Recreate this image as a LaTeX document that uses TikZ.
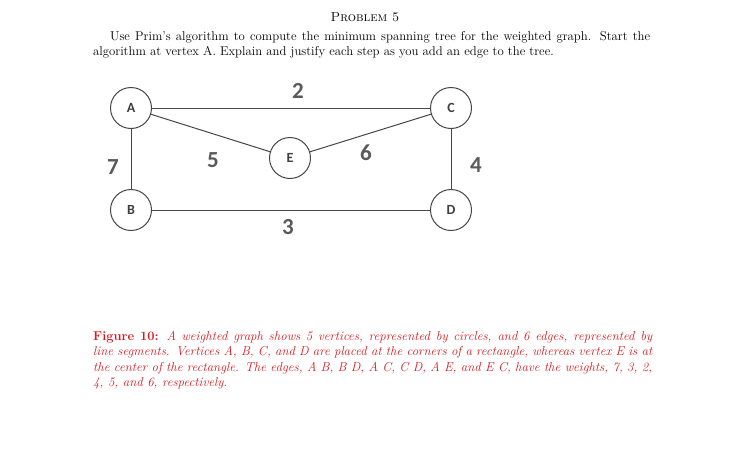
\documentclass[tikz,border=0pt]{standalone}
\usepackage{fontspec}
\newfontfamily\lblfont{Carlito}
\definecolor{capred}{RGB}{215,25,30}
\definecolor{edgegray}{RGB}{70,70,70}
\definecolor{lblgray}{RGB}{90,90,90}
\tikzset{
  vtx/.style={circle,draw=edgegray,line width=1pt,fill=white,minimum size=41pt,inner sep=0pt,font=\lblfont\bfseries\fontsize{14}{14}\selectfont,text=lblgray!70!black},
  edge/.style={draw=edgegray,line width=1pt},
  wlbl/.style={font=\lblfont\bfseries\fontsize{23}{23}\selectfont,text=lblgray,inner sep=0pt},
  para/.style={anchor=north west,inner sep=0pt,align=justify,text width=557pt,font=\fontsize{12.75}{15.3}\selectfont\addfontfeature{FakeBold=0.4}}
}
\begin{document}
\begin{tikzpicture}[x=1pt,y=-1pt]
\useasboundingbox (0,0) rectangle (730,450);
\node (title) at (365,17) {\fontsize{13}{15}\selectfont\addfontfeature{FakeBold=0.4}\textsc{Problem 5}};
\node[para] (prob) at (93,31) {\hyphenpenalty=10000\relax\hspace*{17pt}Use Prim's algorithm to compute the minimum spanning tree for the weighted graph. Start the algorithm at vertex A. Explain and justify each step as you add an edge to the tree.};
\node[vtx] (A) at (131,108) {A};
\node[vtx] (C) at (451,108) {C};
\node[vtx] (B) at (131,210) {B};
\node[vtx] (D) at (451,210) {D};
\node[vtx] (E) at (290,158) {E};
\draw[edge] (A) -- (C);
\draw[edge] (A) -- (B);
\draw[edge] (B) -- (D);
\draw[edge] (C) -- (D);
\draw[edge] (A) -- (E);
\draw[edge] (E) -- (C);
\node[wlbl] (w2) at (298,91) {2};
\node[wlbl] (w7) at (113,167) {7};
\node[wlbl] (w5) at (213,160) {5};
\node[wlbl] (w6) at (366,153) {6};
\node[wlbl] (w4) at (476,165) {4};
\node[wlbl] (w3) at (288,227) {3};
\node[para,text width=559pt,text=capred,font=\fontsize{12.88}{15.3}\selectfont\addfontfeature{FakeBold=0.4}] (cap) at (93,331) {\hyphenpenalty=10000\relax\textbf{Figure 10:} \textit{A weighted graph shows 5 vertices, represented by circles, and 6 edges, represented by\linebreak line segments. Vertices A, B, C, and D are placed at the corners of a rectangle, whereas vertex E is at\linebreak the center of the rectangle. The edges, A B, B D, A C, C D, A E, and E C, have the weights, 7, 3, 2,\linebreak 4, 5, and 6, respectively.}};
\end{tikzpicture}
\end{document}
